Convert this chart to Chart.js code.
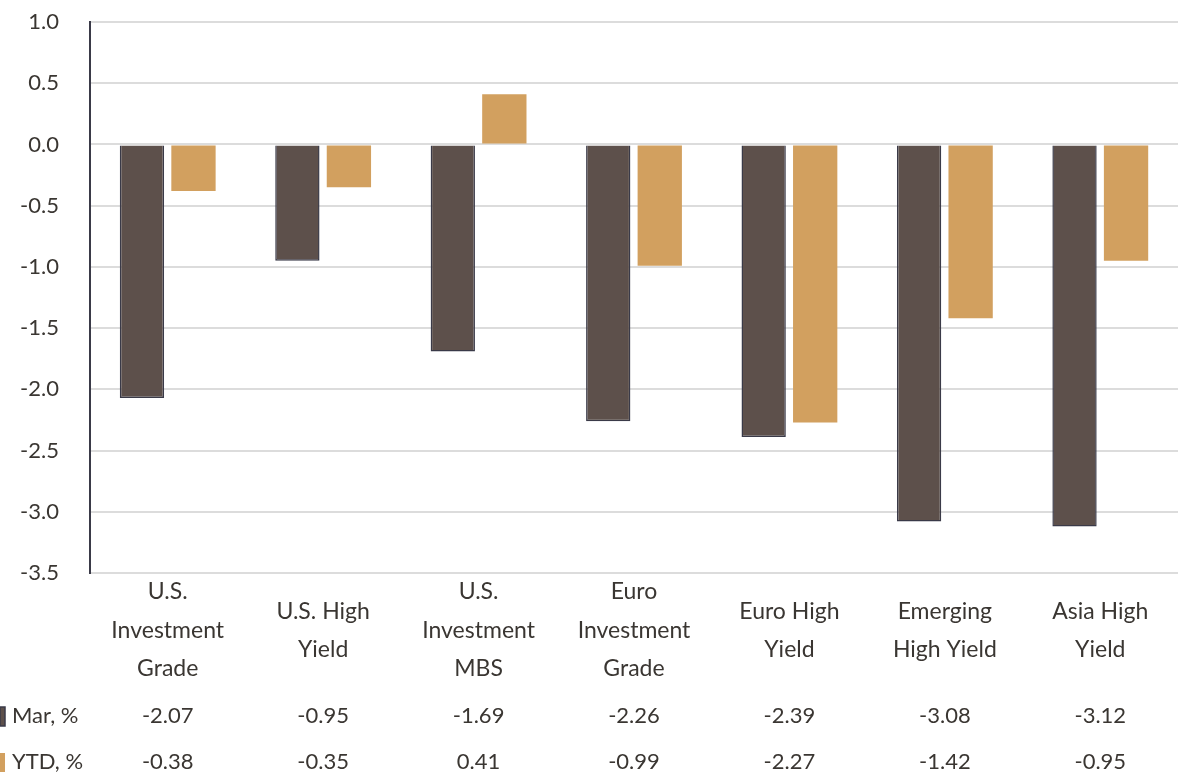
<!DOCTYPE html>
<html>
<head>
<meta charset="utf-8">
<script src="https://cdn.jsdelivr.net/npm/chart.js@4/dist/chart.umd.min.js"></script>
<style>
  html, body { margin: 0; padding: 0; background: #fff; }
  #wrap { width: 1178px; height: 779px; position: relative; }
</style>
</head>
<body>
<div id="wrap"><canvas id="bondChart"></canvas></div>
<script>
// categories (each entry split into lines as shown under the axis)
var categories = [
  ["U.S.", "Investment", "Grade"],
  ["U.S. High", "Yield"],
  ["U.S.", "Investment", "MBS"],
  ["Euro", "Investment", "Grade"],
  ["Euro High", "Yield"],
  ["Emerging", "High Yield"],
  ["Asia High", "Yield"]
];
var marValues = [-2.07, -0.95, -1.69, -2.26, -2.39, -3.08, -3.12];
var ytdValues = [-0.38, -0.35, 0.41, -0.99, -2.27, -1.42, -0.95];
var seriesNames = ["Mar, %", "YTD, %"];
var yTicks = [1.0, 0.5, 0.0, -0.5, -1.0, -1.5, -2.0, -2.5, -3.0, -3.5];

var textColor = "#3a3632";
var fontFamily = "Lato, 'Open Sans', sans-serif";

// draws the multi-line category labels and the value table below the plot
var tablePlugin = {
  id: "tablePlugin",
  afterDraw: function (chart) {
    var ctx = chart.ctx;
    var xScale = chart.scales.x;
    var lineH = 38.5;
    var bandMid = 630.5;
    ctx.save();
    ctx.fillStyle = textColor;
    ctx.font = "23px " + fontFamily;
    ctx.textAlign = "center";
    ctx.textBaseline = "middle";
    categories.forEach(function (lines, i) {
      var x = xScale.getPixelForValue(i);
      var start = bandMid - (lines.length - 1) * lineH / 2;
      lines.forEach(function (line, j) {
        ctx.fillText(line, x, start + j * lineH);
      });
    });

    ctx.font = "22px " + fontFamily;
    var rows = [
      { name: seriesNames[0], values: marValues, color: "#5d504b", y: 716 },
      { name: seriesNames[1], values: ytdValues, color: "#d2a05f", y: 762 }
    ];
    rows.forEach(function (row) {
      ctx.fillStyle = row.color;
      ctx.fillRect(0, row.y - 9, 5, 19);
      if (row.color === "#5d504b") {
        ctx.strokeStyle = "#3a3a48";
        ctx.lineWidth = 1.5;
        ctx.strokeRect(0, row.y - 9, 5, 19);
      }
      ctx.fillStyle = textColor;
      ctx.textAlign = "left";
      ctx.fillText(row.name, 12, row.y);
      ctx.textAlign = "center";
      row.values.forEach(function (v, i) {
        ctx.fillText(v.toFixed(2), xScale.getPixelForValue(i), row.y);
      });
    });
    ctx.restore();
  }
};

var ctx = document.getElementById("bondChart").getContext("2d");
var bondChart = new Chart(ctx, {
  type: "bar",
  data: {
    labels: categories.map(function (c) { return c.join(" "); }),
    datasets: [
      {
        label: seriesNames[0],
        data: marValues,
        backgroundColor: "#5d504b",
        borderColor: "#3a3a48",
        borderWidth: { left: 1.5, right: 1.5, bottom: 1.5, top: 0 },
        borderSkipped: false,
        barPercentage: 0.86,
        categoryPercentage: 0.663
      },
      {
        label: seriesNames[1],
        data: ytdValues,
        backgroundColor: "#d2a05f",
        borderWidth: 0,
        barPercentage: 0.86,
        categoryPercentage: 0.663
      }
    ]
  },
  options: {
    responsive: true,
    maintainAspectRatio: false,
    animation: false,
    layout: { padding: { top: 22, right: 0, left: 0, bottom: 0 } },
    plugins: {
      legend: { display: false },
      tooltip: { enabled: false }
    },
    scales: {
      x: {
        grid: { display: false, drawTicks: false },
        border: { display: false },
        ticks: { display: false },
        afterFit: function (scale) { scale.height = 206; }
      },
      y: {
        min: -3.5,
        max: 1.0,
        afterBuildTicks: function (scale) {
          scale.ticks = yTicks.map(function (v) { return { value: v }; });
        },
        ticks: {
          color: textColor,
          font: { family: fontFamily, size: 22 },
          padding: 31,
          callback: function (v) { return Number(v).toFixed(1); }
        },
        grid: { color: "#dcdcdc", lineWidth: 2, drawTicks: false },
        border: { display: true, color: "#3a3a48", width: 2 },
        afterFit: function (scale) {
          scale.width = 90;
          scale.paddingTop = 0;
          scale.paddingBottom = 0;
        }
      }
    }
  },
  plugins: [tablePlugin]
});
</script>
</body>
</html>
